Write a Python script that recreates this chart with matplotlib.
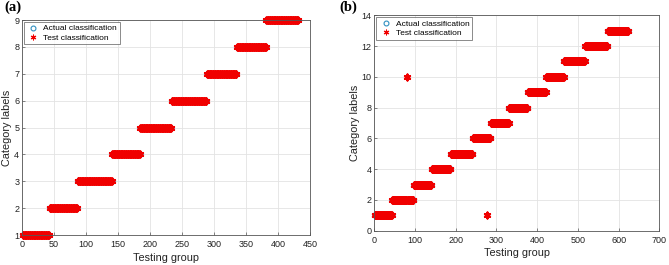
import numpy as np
import matplotlib
matplotlib.use("Agg")
import matplotlib.pyplot as plt
from matplotlib.markers import MarkerStyle

plt.rcParams['font.family'] = ['Liberation Sans', 'DejaVu Sans']

# Panel (a): sample counts per category (consecutive testing groups)
counts_a = [42, 44, 54, 44, 49, 55, 47, 46, 50]
# Panel (b)
counts_b = [43, 53, 44, 47, 54, 44, 45, 46, 45, 44, 52, 55, 51]
# Misclassified samples in (b): (testing group index, predicted label)
outliers_b_x = [81, 277]
outliers_b_y = [10, 1]

def build(counts):
    labels = np.concatenate([np.full(c, i + 1) for i, c in enumerate(counts)])
    x = np.arange(1, len(labels) + 1)
    return x, labels

AST = MarkerStyle((6, 2, 0), capstyle='round', joinstyle='round')

fig = plt.figure(figsize=(6.69, 2.65), dpi=100)

def style(ax, xlim, xticks, ylim, yticks, xlab_y, ylab_x):
    ax.set_xlim(*xlim)
    ax.set_ylim(*ylim)
    ax.set_xticks(xticks)
    ax.set_yticks(yticks)
    ax.grid(True, color='#e3e3e3', linewidth=0.6)
    ax.set_axisbelow(True)
    for s in ax.spines.values():
        s.set_color('#555555')
        s.set_linewidth(0.6)
    ax.tick_params(direction='in', length=2, width=0.5, colors='#555555',
                   labelsize=6.5, labelcolor='#222222', pad=2)
    ax.tick_params(axis='x', pad=3.5)
    ax.set_xlabel('Testing group', fontsize=7.8, color='#222222')
    ax.set_ylabel('Category labels', fontsize=7.8, color='#222222')
    ax.xaxis.set_label_coords(0.5, xlab_y)
    ax.yaxis.set_label_coords(ylab_x, 0.5)

def draw(ax, x, y_act, y_test):
    ax.plot(x, y_act, 'o', ms=4.0, mfc='none', mec='#2f8fc0', mew=0.6, ls='none',
            label='Actual classification', clip_on=False)
    ax.plot(x, y_test, ls='none', marker=AST, ms=4.2, mew=1.6, color='#f00000',
            label='Test classification', clip_on=False)
    leg = ax.legend(loc='upper left', fontsize=6, frameon=True, fancybox=False,
                    edgecolor='#555555', borderpad=0.3, handletextpad=0.4,
                    labelspacing=0.2, borderaxespad=0.25, handlelength=1.6)
    leg.get_frame().set_linewidth(0.6)
    for h in leg.legend_handles:
        h.set_markersize(3.5)
        h.set_markeredgewidth(0.8)

# (a)
ax1 = fig.add_axes([0.0329, 0.1132, 0.4305, 0.8113])
xa, ya = build(counts_a)
style(ax1, (0, 450), np.arange(0, 451, 50), (1, 9), np.arange(1, 10, 1),
      -0.085, -0.035)
draw(ax1, xa, ya, ya)

# (b)
ax2 = fig.add_axes([0.5595, 0.1294, 0.426, 0.8129])
xb, yb = build(counts_b)
yb_test = yb.copy()
for ox, oy in zip(outliers_b_x, outliers_b_y):
    yb_test[ox - 1] = oy
style(ax2, (0, 700), np.arange(0, 701, 100), (0, 14), np.arange(0, 15, 2),
      -0.08, -0.0495)
draw(ax2, xb, yb, yb_test)

fig.text(0.006, 0.998, '(a)', fontsize=10.5, fontweight='bold', family='Liberation Serif',
         va='top', ha='left')
fig.text(0.508, 0.998, '(b)', fontsize=10.5, fontweight='bold', family='Liberation Serif',
         va='top', ha='left')

fig.savefig('out.png', dpi=100)
